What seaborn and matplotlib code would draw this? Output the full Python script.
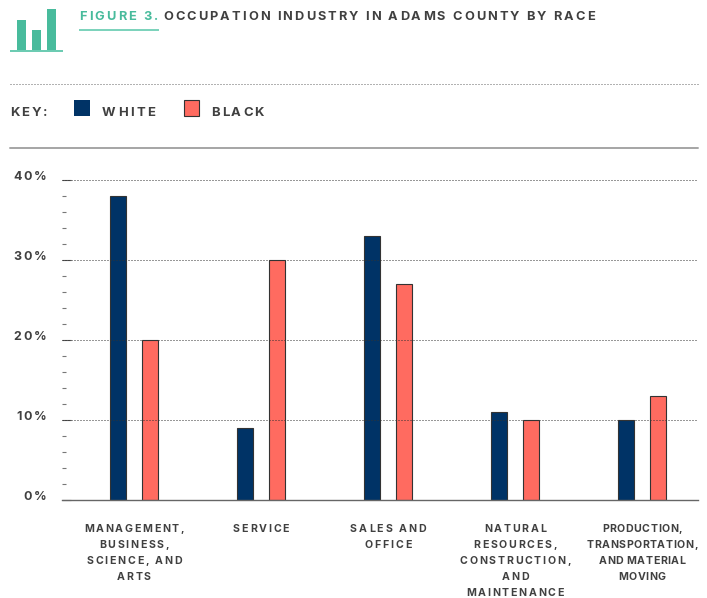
import matplotlib
matplotlib.use("Agg")
import matplotlib.pyplot as plt
import matplotlib.transforms as mt
import pandas as pd
import seaborn as sns
from matplotlib.font_manager import FontProperties, findfont, get_font
from matplotlib.ft2font import LoadFlags
from matplotlib.lines import Line2D
from matplotlib.patches import Rectangle
from matplotlib.text import Text
from matplotlib.ticker import MultipleLocator

categories = ["MANAGEMENT,\nBUSINESS,\nSCIENCE, AND\nARTS", "SERVICE", "SALES AND\nOFFICE",
              "NATURAL\nRESOURCES,\nCONSTRUCTION,\nAND\nMAINTENANCE",
              "PRODUCTION,\nTRANSPORTATION,\nAND MATERIAL\nMOVING"]
white = [38, 9, 33, 11, 10]
black = [20, 30, 27, 10, 13]
y_ticks = [0, 10, 20, 30, 40]
y_labels = ["0%", "10%", "20%", "30%", "40%"]

NAVY, CORAL, TEAL, TXT = "#003366", "#FF6B60", "#48BB9C", "#404040"
W, H = 707, 598
DPI = 100
sns.set_theme(style="white")
plt.rcParams["font.family"] = ["Inter", "DejaVu Sans"]
plt.rcParams["font.weight"] = "bold"


def fprop(size):
    return FontProperties(family="Inter", weight="bold", size=size)


def advances(s, fp):
    font = get_font(findfont(fp))
    font.set_size(fp.get_size_in_points(), DPI)
    return [font.load_char(ord(c), flags=LoadFlags.NO_HINTING).linearHoriAdvance / 65536 for c in s]


class Tracked(Text):
    """Ordinary text artist, drawn with letter-spacing (in pixels)."""
    tracking = 0.0
    pitch = 16.0

    def _layout(self):
        fp = self.get_fontproperties()
        cap = fp.get_size_in_points() * DPI / 72 * 0.72
        x, y = self.get_transform().transform(self.get_unitless_position())
        lines = self.get_text().split("\n")
        block = cap + self.pitch * (len(lines) - 1)
        top = y if self.get_verticalalignment() == "top" else y + block / 2
        out, boxes = [], []
        for i, ln in enumerate(lines):
            advs = advances(ln, fp)
            w = sum(advs) + self.tracking * max(len(ln) - 1, 0)
            px0 = x - {"left": 0, "center": w / 2, "right": w}[self.get_horizontalalignment()]
            base = top - cap - i * self.pitch
            boxes.append((px0, px0 + w))
            cx = px0
            for c, a in zip(ln, advs):
                out.append((cx, base, c))
                cx += a + self.tracking
        return out, mt.Bbox([[min(b[0] for b in boxes), top - block], [max(b[1] for b in boxes), top]])

    def get_window_extent(self, renderer=None, dpi=None):
        if not self.get_text():
            x, y = self.get_transform().transform(self.get_unitless_position())
            return mt.Bbox([[x, y], [x, y]])
        return self._layout()[1]

    def draw(self, renderer):
        if not self.get_visible() or not self.get_text():
            return
        gc = renderer.new_gc()
        gc.set_foreground(self.get_color())
        gc.set_antialiased(True)
        fp = self.get_fontproperties()
        _, ch = renderer.get_canvas_width_height()
        for x, y, c in self._layout()[0]:
            if c != " ":
                renderer.draw_text(gc, x, ch - y, c, fp, 0, ismath=False)
        gc.restore()
        self.stale = False


def fit(s, fp, target):
    return (target - sum(advances(s, fp))) / (len(s) - 1)


df = pd.DataFrame({"cat": categories * 2, "val": white + black,
                   "race": ["White"] * 5 + ["Black"] * 5})

fig = plt.figure(figsize=(W / DPI, H / DPI), dpi=DPI, facecolor="white")
ax = fig.add_axes([62 / W, 1 - 499.5 / H, 636 / W, 320 / H])
sns.barplot(data=df, x="cat", y="val", hue="race", order=categories, hue_order=["White", "Black"],
            palette={"White": NAVY, "Black": CORAL}, width=0.504, gap=0.5, legend=False,
            edgecolor="#333333", linewidth=0.8, saturation=1, ax=ax, errorbar=None)
ax.set_xlim(-0.567, 4.441)
ax.set_ylim(0, 40)
ax.set_xlabel("")
ax.set_ylabel("")
for s in ["top", "right", "left"]:
    ax.spines[s].set_visible(False)
ax.spines["bottom"].set_color("#666666")
ax.spines["bottom"].set_linewidth(1)
ax.set_yticks(y_ticks)
ax.set_yticklabels(y_labels, color=TXT)
ax.yaxis.set_minor_locator(MultipleLocator(2))
ax.tick_params(axis="y", which="major", direction="in", length=6.5, width=0.8, color="#555555", pad=10.8, left=True)
ax.tick_params(axis="y", which="minor", direction="in", length=3, width=0.8, color="#777777", left=True)
ax.tick_params(axis="x", length=0, pad=17.6)
for v in y_ticks[1:]:
    ax.axhline(v, color="#333333", lw=0.72, ls=(0, (1, 2)), zorder=5, clip_on=False)
widest = [("MANAGEMENT,", 100), ("SERVICE", 56), ("SALES AND", 76), ("CONSTRUCTION,", 111), ("TRANSPORTATION,", 111)]
for t, (ln, wpx) in zip(ax.get_xticklabels(), widest):
    t.__class__ = Tracked
    t.set_fontproperties(fprop(7.6))
    t.set_color(TXT)
    t.set_va("top")
    t.tracking = fit(ln, t.get_fontproperties(), wpx)
off = mt.ScaledTranslation(0, 4.0 / DPI, fig.dpi_scale_trans)
for t in ax.get_yticklabels():
    t.__class__ = Tracked
    t.set_fontproperties(fprop(9))
    t.tracking = fit("40%", t.get_fontproperties(), 34)
    t.set_va("center")
    t.set_transform(t.get_transform() + off)


def px(x, y):
    return x / W, 1 - y / H


def rect(x0, y0, x1, y1, fc, ec="none", lw=0):
    fig.add_artist(Rectangle(px(x0, y1), (x1 - x0) / W, (y1 - y0) / H, transform=fig.transFigure,
                             facecolor=fc, edgecolor=ec, linewidth=lw))


def line(x0, y0, x1, y1, **kw):
    fig.add_artist(Line2D([x0 / W, x1 / W], [1 - y0 / H, 1 - y1 / H], transform=fig.transFigure, **kw))


def label(x0, x1, y, s, color, size):
    t = Tracked(*px(x0, y), s, color=color, fontproperties=fprop(size), va="center", ha="left",
                transform=fig.transFigure)
    t.tracking = fit(s, t.get_fontproperties(), x1 - x0)
    fig.add_artist(t)


# icon
rect(17, 20, 26, 51, TEAL)
rect(32, 30, 41, 51, TEAL)
rect(47, 9, 56, 51, TEAL)
rect(10, 50.5, 63, 52, "#6CCBB2")

# title
label(79, 158, 15, "FIGURE 3.", "#48BB9C", 9.2)
label(163, 595, 15, "OCCUPATION INDUSTRY IN ADAMS COUNTY BY RACE", TXT, 9.2)
rect(79, 29, 159, 31, "#7DD3BC")

# rules
line(10, 84, 698, 84, color="#666666", lw=0.72, ls=(0, (1, 2)))
line(10, 148, 698, 148, color="#A5A5A5", lw=1.4)

# key
label(10, 47, 111, "KEY:", TXT, 9.4)
rect(74, 100, 90, 116, NAVY)
label(102, 155, 111, "WHITE", TXT, 9.4)
rect(183.5, 100.5, 199, 116, CORAL, ec="#333333", lw=0.8)
label(211, 264, 111, "BLACK", TXT, 9.4)

fig.savefig("out.png", dpi=DPI)
